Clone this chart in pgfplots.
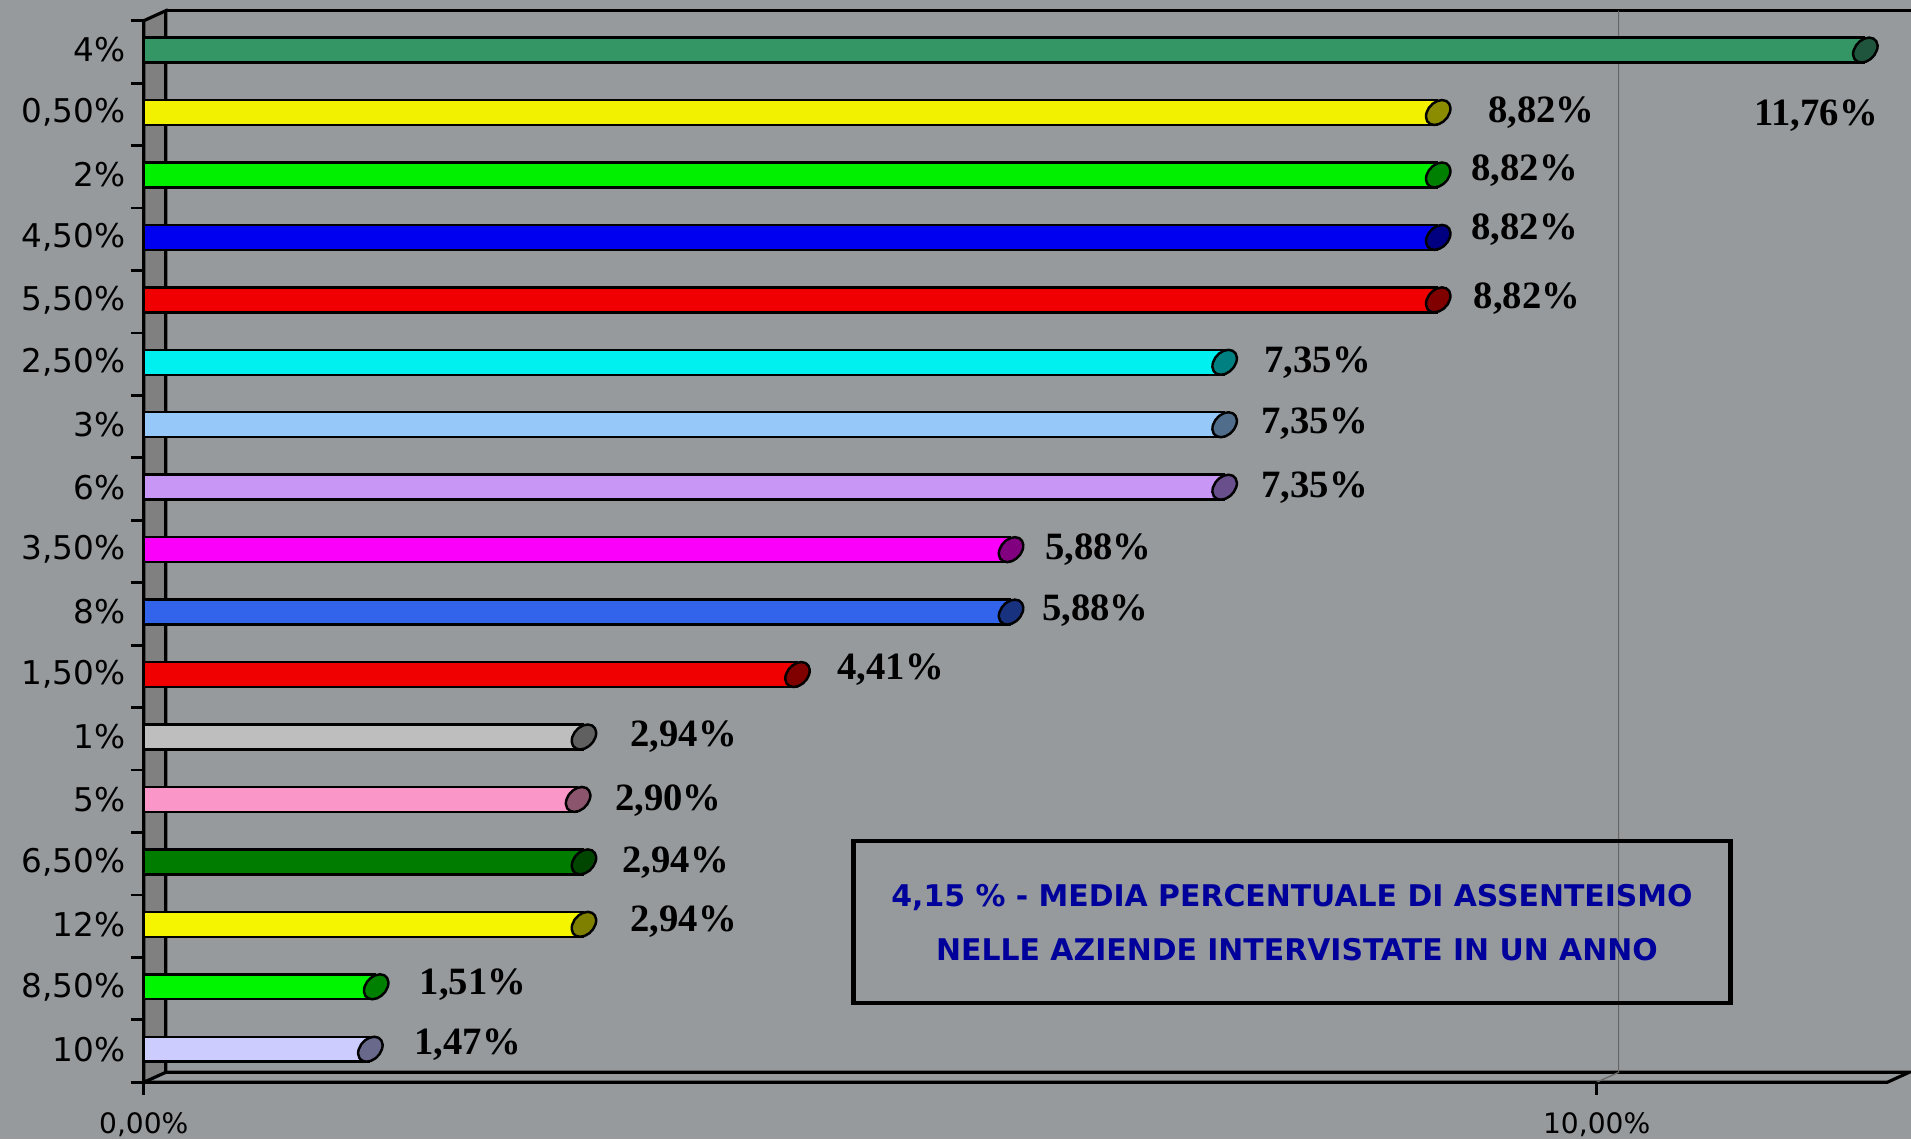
\documentclass[border=0pt]{standalone}
\usepackage{pgfplots}
\pgfplotsset{compat=1.18}
\usepackage{fontspec}
\setmainfont{Liberation Serif}
\newfontfamily\dejavu{DejaVu Sans}

\definecolor{bg}{RGB}{150,154,157}
\definecolor{wallgray}{RGB}{128,128,128}
\definecolor{boxblue}{RGB}{0,0,155}
\definecolor{bA}{RGB}{51,150,100}\definecolor{kA}{RGB}{31,85,60}
\definecolor{bB}{RGB}{242,242,0}\definecolor{kB}{RGB}{140,140,0}
\definecolor{bC}{RGB}{0,240,0}\definecolor{kC}{RGB}{0,128,0}
\definecolor{bD}{RGB}{0,0,240}\definecolor{kD}{RGB}{0,0,128}
\definecolor{bE}{RGB}{240,0,0}\definecolor{kE}{RGB}{128,0,0}
\definecolor{bF}{RGB}{0,240,240}\definecolor{kF}{RGB}{0,128,128}
\definecolor{bG}{RGB}{150,200,250}\definecolor{kG}{RGB}{80,110,140}
\definecolor{bH}{RGB}{200,150,245}\definecolor{kH}{RGB}{105,80,140}
\definecolor{bI}{RGB}{250,0,250}\definecolor{kI}{RGB}{128,0,128}
\definecolor{bJ}{RGB}{50,100,235}\definecolor{kJ}{RGB}{25,50,128}
\definecolor{bL}{RGB}{190,190,190}\definecolor{kL}{RGB}{96,96,96}
\definecolor{bM}{RGB}{250,150,200}\definecolor{kM}{RGB}{140,85,110}
\definecolor{bN}{RGB}{0,125,0}\definecolor{kN}{RGB}{0,70,0}
\definecolor{bO}{RGB}{245,245,0}\definecolor{kO}{RGB}{128,128,0}
\definecolor{bP}{RGB}{0,245,0}\definecolor{kP}{RGB}{0,128,0}
\definecolor{bQ}{RGB}{204,204,255}\definecolor{kQ}{RGB}{105,105,140}

\def\cylbody{black}
\pgfkeys{/cyl/body/.code={\def\cylbody{#1}}}
\pgfdeclareplotmark{cyl}{%
  \begin{pgfscope}
    \pgfsetfillcolor{\cylbody}
    \pgfpathrectangle{\pgfpoint{-0.5pt}{-3.55pt}}{\pgfpoint{4.2pt}{7.1pt}}
    \pgfusepath{fill}
    \pgfpathmoveto{\pgfpoint{-0.5pt}{3.55pt}}\pgfpathlineto{\pgfpoint{3.7pt}{3.55pt}}
    \pgfpathmoveto{\pgfpoint{-0.5pt}{-3.55pt}}\pgfpathlineto{\pgfpoint{3.7pt}{-3.55pt}}
    \pgfusepath{stroke}
  \end{pgfscope}
  \pgfpathellipse{\pgfpoint{3.7pt}{0pt}}{\pgfpoint{3.3pt}{0pt}}{\pgfpoint{1.1pt}{3.55pt}}
  \pgfusepath{fill,stroke}
}
\pgfplotsset{cylbar/.style 2 args={xbar, bar width=7.1pt, bar shift=0pt,
  fill=#1, draw=black, line width=0.7pt, mark=cyl,
  mark options={draw=black, fill=#2, line width=0.7pt, solid, /cyl/body=#1}}}

\begin{document}
\begin{tikzpicture}
\fill[bg] (0,0) rectangle (19.11,11.39);
% left wall
\filldraw[fill=wallgray, draw=black, line width=0.9pt] (1.438,0.567) -- (1.438,11.183) -- (1.658,11.283) -- (1.658,0.667) -- cycle;
\draw[black, line width=0.9pt] (1.658,11.283) -- (19.3,11.283);
% floor
\draw[black, line width=0.9pt] (1.438,0.567) -- (18.872,0.567) -- (19.092,0.667) -- (1.658,0.667);
% 10% gridline on the back wall
\draw[black!60, line width=0.35pt] (15.966,0.567) -- (16.186,0.667) -- (16.186,11.283);
% tick marks of the frame
\foreach \k in {0,...,17} {\draw[black, line width=0.8pt] (1.308,0.567+\k*0.6245) -- (1.438,0.567+\k*0.6245);}
\draw[black, line width=0.8pt] (1.438,0.567) -- (1.438,0.437);
\draw[black, line width=0.8pt] (15.966,0.567) -- (15.966,0.437);

\begin{axis}[
  at={(1.438cm,0.567cm)}, anchor=south west,
  scale only axis, width=17.434cm, height=10.616cm,
  xmin=0, xmax=12, ymin=-0.53, ymax=16.47,
  axis line style={draw=none},
  clip=false,
  xtick={0,10}, xticklabels={{0,00\%},{10,00\%}},
  ytick={0,...,16},
  yticklabels={{10\%},{8,50\%},{12\%},{6,50\%},{5\%},{1\%},{1,50\%},{8\%},{3,50\%},{6\%},{3\%},{2,50\%},{5,50\%},{4,50\%},{2\%},{0,50\%},{4\%}},
  tick align=outside, tick pos=left,
  major tick length=0pt,
  xtick style={draw=none}, ytick style={draw=none},
  yticklabel style={font=\dejavu\fontsize{9.3}{11}\selectfont, xshift=-1.7pt},
  xticklabel style={font=\dejavu\fontsize{8}{10}\selectfont, yshift=-5.2pt},
]
\addplot[cylbar={bQ}{kQ}] coordinates {(1.47,0)};
\addplot[cylbar={bP}{kP}] coordinates {(1.51,1)};
\addplot[cylbar={bO}{kO}] coordinates {(2.94,2)};
\addplot[cylbar={bN}{kN}] coordinates {(2.94,3)};
\addplot[cylbar={bM}{kM}] coordinates {(2.90,4)};
\addplot[cylbar={bL}{kL}] coordinates {(2.94,5)};
\addplot[cylbar={bE}{kE}] coordinates {(4.41,6)};
\addplot[cylbar={bJ}{kJ}] coordinates {(5.88,7)};
\addplot[cylbar={bI}{kI}] coordinates {(5.88,8)};
\addplot[cylbar={bH}{kH}] coordinates {(7.35,9)};
\addplot[cylbar={bG}{kG}] coordinates {(7.35,10)};
\addplot[cylbar={bF}{kF}] coordinates {(7.35,11)};
\addplot[cylbar={bE}{kE}] coordinates {(8.82,12)};
\addplot[cylbar={bD}{kD}] coordinates {(8.82,13)};
\addplot[cylbar={bC}{kC}] coordinates {(8.82,14)};
\addplot[cylbar={bB}{kB}] coordinates {(8.82,15)};
\addplot[cylbar={bA}{kA}] coordinates {(11.76,16)};

\tikzset{vl/.style={font=\bfseries\fontsize{11}{13}\selectfont, text=black}}
\node[vl] at (axis cs:11.51,14.95) {11,76\%};
\node[vl] at (axis cs:9.62,15.0) {8,82\%};
\node[vl] at (axis cs:9.505,14.07) {8,82\%};
\node[vl] at (axis cs:9.505,13.13) {8,82\%};
\node[vl] at (axis cs:9.52,12.02) {8,82\%};
\node[vl] at (axis cs:8.08,11.0) {7,35\%};
\node[vl] at (axis cs:8.06,10.01) {7,35\%};
\node[vl] at (axis cs:8.06,8.99) {7,35\%};
\node[vl] at (axis cs:6.57,8.0) {5,88\%};
\node[vl] at (axis cs:6.55,7.02) {5,88\%};
\node[vl] at (axis cs:5.14,6.08) {4,41\%};
\node[vl] at (axis cs:3.716,5.01) {2,94\%};
\node[vl] at (axis cs:3.61,3.98) {2,90\%};
\node[vl] at (axis cs:3.66,2.98) {2,94\%};
\node[vl] at (axis cs:3.716,2.04) {2,94\%};
\node[vl] at (axis cs:2.265,1.03) {1,51\%};
\node[vl] at (axis cs:2.23,0.07) {1,47\%};
\end{axis}

% annotation box
\draw[black, line width=1.4pt] (8.532,1.36) rectangle (17.307,2.98);
\node[font=\dejavu\bfseries\fontsize{8.5}{10}\selectfont, text=boxblue] at (12.92,2.41) {4,15 \% - MEDIA PERCENTUALE DI ASSENTEISMO};
\node[font=\dejavu\bfseries\fontsize{8.5}{10}\selectfont, text=boxblue] at (12.97,1.896) {NELLE AZIENDE INTERVISTATE IN UN ANNO};

\pgfresetboundingbox
\useasboundingbox (0,0) rectangle (19.11,11.39);
\end{tikzpicture}
\end{document}
